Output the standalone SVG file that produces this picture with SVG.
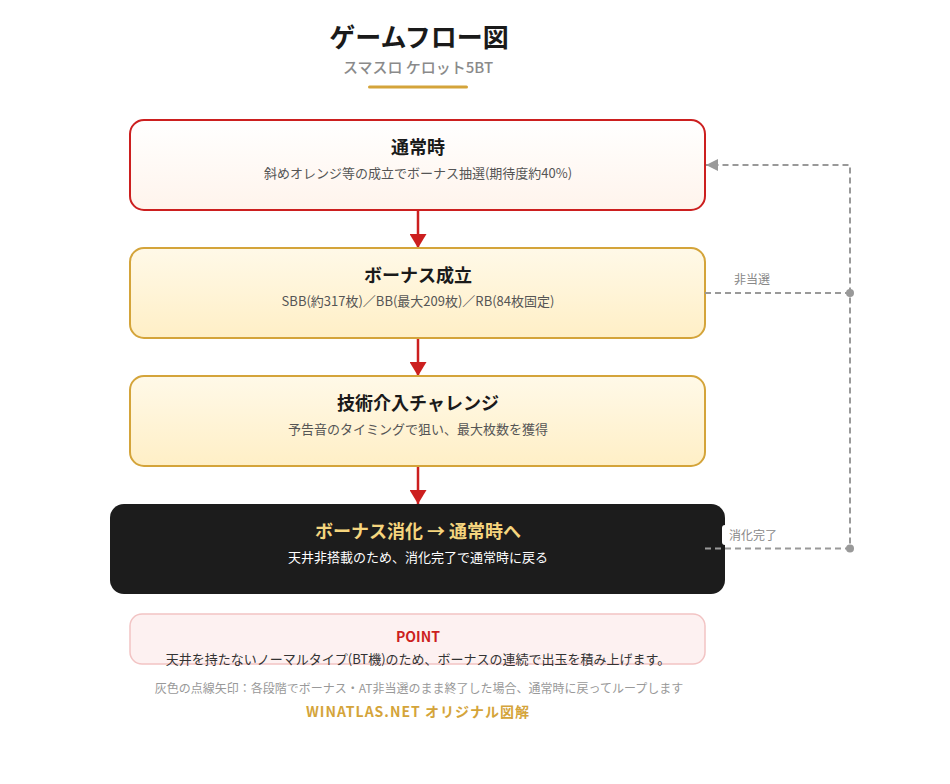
<svg xmlns="http://www.w3.org/2000/svg" width="950" height="784" viewBox="0 0 950 784">
<style>
text{font-family:"Noto Sans CJK JP","Noto Sans",sans-serif;text-anchor:middle}
.ttl{font-size:18px;font-weight:700;fill:#1a1a1a}
.sub{font-size:13px;fill:#555}
.lbl{font-size:12px;fill:#888;text-anchor:start}
.flow{stroke:#cc1f1f;stroke-width:2.5;fill:none}
.loop{stroke:#999;stroke-width:2;stroke-dasharray:6 4;fill:none}
</style>
<defs>
<linearGradient id="g1" x1="0" y1="0" x2="0" y2="1"><stop offset="0" stop-color="#ffffff"/><stop offset="1" stop-color="#fff4ec"/></linearGradient>
<linearGradient id="g2" x1="0" y1="0" x2="0" y2="1"><stop offset="0" stop-color="#fff9e8"/><stop offset="1" stop-color="#ffefc6"/></linearGradient>
<marker id="ar" viewBox="0 0 14 17" markerWidth="14" markerHeight="17" refX="14" refY="8.5" orient="auto" markerUnits="userSpaceOnUse"><path d="M0,0 L14,8.5 L0,17 Z" fill="#cc1f1f"/></marker>
<marker id="ag" viewBox="0 0 12 12" markerWidth="12" markerHeight="12" refX="12" refY="6" orient="auto" markerUnits="userSpaceOnUse"><path d="M0,0 L12,6 L0,12 Z" fill="#999"/></marker>
</defs>
<rect width="950" height="784" fill="#ffffff"/>
<g id="header">
<text x="419" y="47" style="font-size:26px;font-weight:700;fill:#1a1a1a">ゲームフロー図</text>
<text x="418" y="73" style="font-size:15px;font-weight:500;fill:#8a8a8a">スマスロ ケロット5BT</text>
<rect x="368" y="85.5" width="100" height="3" rx="1.5" fill="#d4a43a"/>
</g>
<g id="connectors">
<line class="flow" x1="418" y1="210" x2="418" y2="248" marker-end="url(#ar)"/>
<line class="flow" x1="418" y1="338" x2="418" y2="376" marker-end="url(#ar)"/>
<line class="flow" x1="418" y1="466" x2="418" y2="504" marker-end="url(#ar)"/>
</g>
<g id="n1">
<rect x="130" y="120" width="575" height="90" rx="14" fill="url(#g1)" stroke="#cc1f1f" stroke-width="2"/>
<text class="ttl" x="418" y="154">通常時</text>
<text class="sub" x="418" y="178">斜めオレンジ等の成立でボーナス抽選(期待度約40%)</text>
</g>
<g id="n2">
<rect x="130" y="248" width="575" height="90" rx="14" fill="url(#g2)" stroke="#d4a43a" stroke-width="2"/>
<text class="ttl" x="418" y="282">ボーナス成立</text>
<text class="sub" x="418" y="306">SBB(約317枚)／BB(最大209枚)／RB(84枚固定)</text>
</g>
<g id="n3">
<rect x="130" y="376" width="575" height="90" rx="14" fill="url(#g2)" stroke="#d4a43a" stroke-width="2"/>
<text class="ttl" x="418" y="410">技術介入チャレンジ</text>
<text class="sub" x="418" y="434">予告音のタイミングで狙い、最大枚数を獲得</text>
</g>
<g id="n4">
<rect x="110" y="504" width="615" height="90" rx="14" fill="#1c1c1c"/>
<text class="ttl" x="418" y="538" style="fill:#f5d57e">ボーナス消化 → 通常時へ</text>
<text class="sub" x="418" y="562" style="fill:#ffffff">天井非搭載のため、消化完了で通常時に戻る</text>
</g>
<g id="loop">
<path class="loop" d="M705,293 H850"/>
<path class="loop" d="M705,548.5 H850 V165 H706" marker-end="url(#ag)"/>
<circle cx="850" cy="293" r="4" fill="#999"/>
<circle cx="850" cy="548.5" r="4" fill="#999"/>
<text class="lbl" x="734" y="284">非当選</text>
<rect x="722" y="525" width="60" height="20" rx="3" fill="#ffffff"/>
<text class="lbl" x="729" y="540">消化完了</text>
</g>
<g id="point">
<rect x="130" y="614" width="575" height="50" rx="12" fill="#fdf1f1" stroke="#f2c4c4" stroke-width="1.5"/>
<text x="418" y="642" style="font-size:14px;font-weight:700;fill:#cc1f1f">POINT</text>
<text x="418" y="664" style="font-size:13px;fill:#333">天井を持たないノーマルタイプ(BT機)のため、ボーナスの連続で出玉を積み上げます。</text>
</g>
<g id="footer">
<text x="419" y="693" style="font-size:12px;fill:#999">灰色の点線矢印：各段階でボーナス・AT非当選のまま終了した場合、通常時に戻ってループします</text>
<text x="418" y="717" style="font-size:14px;font-weight:700;fill:#d4a43a;letter-spacing:1px">WINATLAS.NET オリジナル図解</text>
</g>
</svg>
